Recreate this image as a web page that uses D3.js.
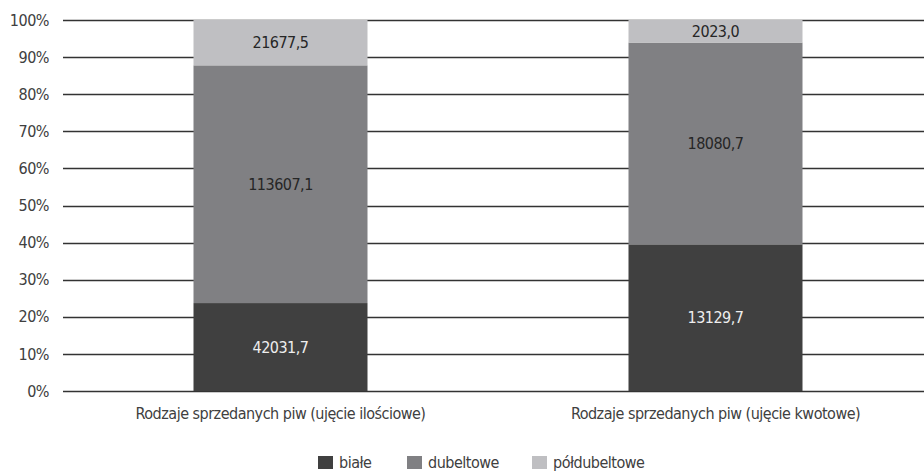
<!DOCTYPE html>
<html><head><meta charset="utf-8">
<script src="https://cdn.jsdelivr.net/npm/d3@7"></script>
<style>
body{margin:0;background:#fff;}
text{font-family:"DejaVu Sans Condensed","Liberation Sans Narrow","Roboto",sans-serif;letter-spacing:-0.5px;}
</style></head><body>
<svg id="c" width="924" height="472"></svg>
<script>
const categories = ["Rodzaje sprzedanych piw (ujęcie ilościowe)", "Rodzaje sprzedanych piw (ujęcie kwotowe)"];
const seriesNames = ["białe", "dubeltowe", "półdubeltowe"];
const biale = [42031.7, 13129.7];
const dubeltowe = [113607.1, 18080.7];
const poldubeltowe = [21677.5, 2023.0];
const yTicks = [0, 0.1, 0.2, 0.3, 0.4, 0.5, 0.6, 0.7, 0.8, 0.9, 1.0];
const colors = ["#404040", "#808083", "#bfbfc2"];
const labelColors = ["#eeeeee", "#262626", "#262626"];

const values = [biale, dubeltowe, poldubeltowe];
const table = categories.map((c, i) => {
  const o = {cat: c};
  seriesNames.forEach((s, k) => o[s] = values[k][i]);
  return o;
});
const stacked = d3.stack().keys(seriesNames).offset(d3.stackOffsetExpand)(table);

const svg = d3.select("#c");
const mLeft = 63, mRight = 933, mTop = 20, mBottom = 391;
const x = d3.scaleBand().domain(categories).range([mLeft, mRight]).paddingInner(0.6).paddingOuter(0.3);
const y = d3.scaleLinear().domain([0, 1]).range([mBottom, mTop]);
const fmt = v => d3.format(".1f")(v).replace(".", ",");
const fs = 16;

// gridlines
svg.append("g").selectAll("line").data(yTicks).join("line")
  .attr("x1", mLeft).attr("x2", 924)
  .attr("y1", d => Math.round(y(d)) + 0.5).attr("y2", d => Math.round(y(d)) + 0.5)
  .attr("stroke", "#333333").attr("stroke-width", 1.3);

// y axis labels
svg.append("g").selectAll("text").data(yTicks).join("text")
  .attr("x", 49).attr("y", d => y(d)).attr("dy", "0.35em")
  .attr("text-anchor", "end").attr("font-size", fs).attr("fill", "#404040")
  .text(d => d3.format(".0%")(d));

// bars
const g = svg.append("g");
stacked.forEach((layer, k) => {
  g.selectAll(null).data(layer).join("rect")
    .attr("x", d => x(d.data.cat)).attr("width", x.bandwidth())
    .attr("y", d => y(d[1])).attr("height", d => y(d[0]) - y(d[1]))
    .attr("fill", colors[k]);
  g.selectAll(null).data(layer).join("text")
    .attr("x", d => x(d.data.cat) + x.bandwidth() / 2)
    .attr("y", d => (y(d[0]) + y(d[1])) / 2).attr("dy", "0.35em")
    .attr("text-anchor", "middle").attr("font-size", fs).attr("fill", labelColors[k])
    .text(d => fmt(d.data[layer.key]));
});

// category labels
svg.append("g").selectAll("text").data(categories).join("text")
  .attr("x", d => x(d) + x.bandwidth() / 2).attr("y", 419)
  .attr("text-anchor", "middle").attr("font-size", fs).attr("fill", "#404040")
  .text(d => d);

// legend
const legX = [318, 407, 532];
const leg = svg.append("g");
seriesNames.forEach((s, k) => {
  leg.append("rect").attr("x", legX[k]).attr("y", 456).attr("width", 15).attr("height", 13).attr("fill", colors[k]);
  leg.append("text").attr("x", legX[k] + 21).attr("y", 468).attr("font-size", fs).attr("fill", "#404040").text(s);
});
</script></body></html>
